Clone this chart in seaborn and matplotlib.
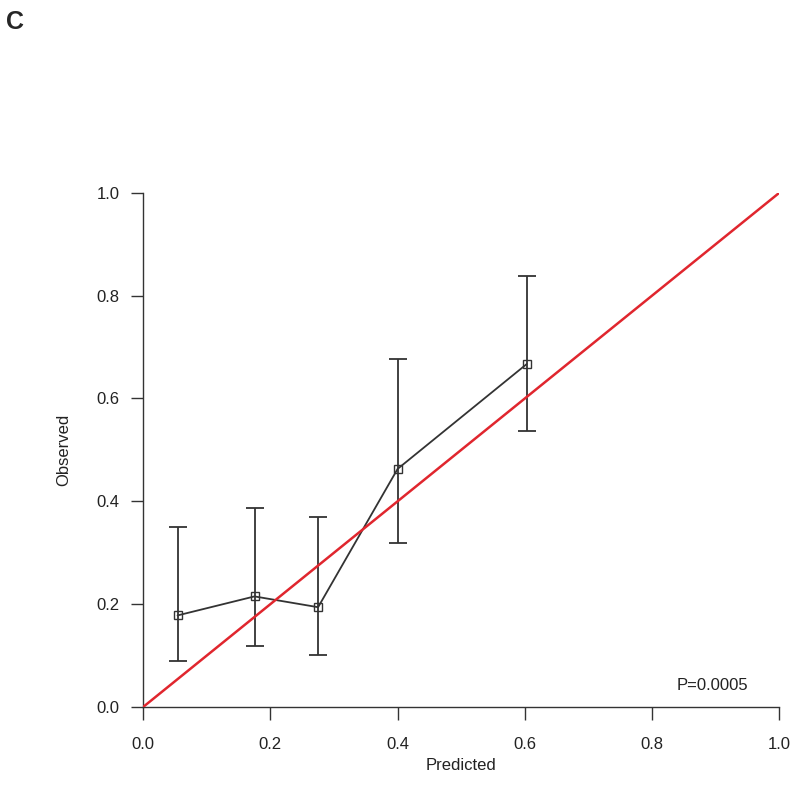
import seaborn as sns
import pandas as pd
import matplotlib.pyplot as plotter

# calibration groups
predicted = [0.054, 0.175, 0.275, 0.400, 0.603]
observed = [0.178, 0.215, 0.194, 0.463, 0.667]
ci_lower = [0.090, 0.118, 0.101, 0.319, 0.536]
ci_upper = [0.350, 0.387, 0.370, 0.676, 0.838]
ideal = [0.0, 1.0]
tick_set = [0.0, 0.2, 0.4, 0.6, 0.8, 1.0]
p_label = "P=0.0005"

sns.set_theme(style="ticks")
plotter.rcParams['font.family'] = ['Liberation Sans', 'DejaVu Sans']

plot_data = pd.DataFrame({"Predicted": predicted, "Observed": observed})
err_low = [o - l for o, l in zip(observed, ci_lower)]
err_high = [u - o for o, u in zip(observed, ci_upper)]

fig = plotter.figure(figsize=(8.0, 8.07), dpi=100)
ax = fig.add_axes([0.179, 0.124, 0.795, 0.637])

ax.errorbar(predicted, observed, yerr=[err_low, err_high], fmt='none',
            ecolor='#333333', elinewidth=1.3, capsize=6.5, capthick=1.3, zorder=2)
sns.lineplot(data=plot_data, x="Predicted", y="Observed", ax=ax, color='#333333',
             linewidth=1.3, marker='s', markersize=6, markerfacecolor='none',
             markeredgecolor='#333333', markeredgewidth=1.0, zorder=3)
sns.lineplot(x=ideal, y=ideal, ax=ax, color='#e0262e', linewidth=1.8, zorder=4)

ax.set_xlim(0, 1)
ax.set_ylim(0, 1)
ax.set_xticks(tick_set)
ax.set_yticks(tick_set)
ax.set_xticklabels([f"{t:.1f}" for t in tick_set])
ax.set_yticklabels([f"{t:.1f}" for t in tick_set])
ax.tick_params(axis='both', length=9, width=1.0, color='#333333',
               labelsize=12, labelcolor='#222222')
ax.tick_params(axis='x', pad=13)
ax.tick_params(axis='y', pad=8)
for side in ['top', 'right']:
    ax.spines[side].set_visible(False)
for side in ['left', 'bottom']:
    ax.spines[side].set_color('#333333')
    ax.spines[side].set_linewidth(1.0)
ax.set_xlabel("Predicted", fontsize=12, color='#222222', labelpad=4)
ax.set_ylabel("Observed", fontsize=12, color='#222222', labelpad=18)
ax.text(0.895, 0.041, p_label, fontsize=12, color='#222222',
        ha='center', va='center')
fig.text(0.008, 0.988, "C", fontsize=18, fontweight='bold', va='top', ha='left')

plotter.savefig("out.png", dpi=100)
plotter.clf()
